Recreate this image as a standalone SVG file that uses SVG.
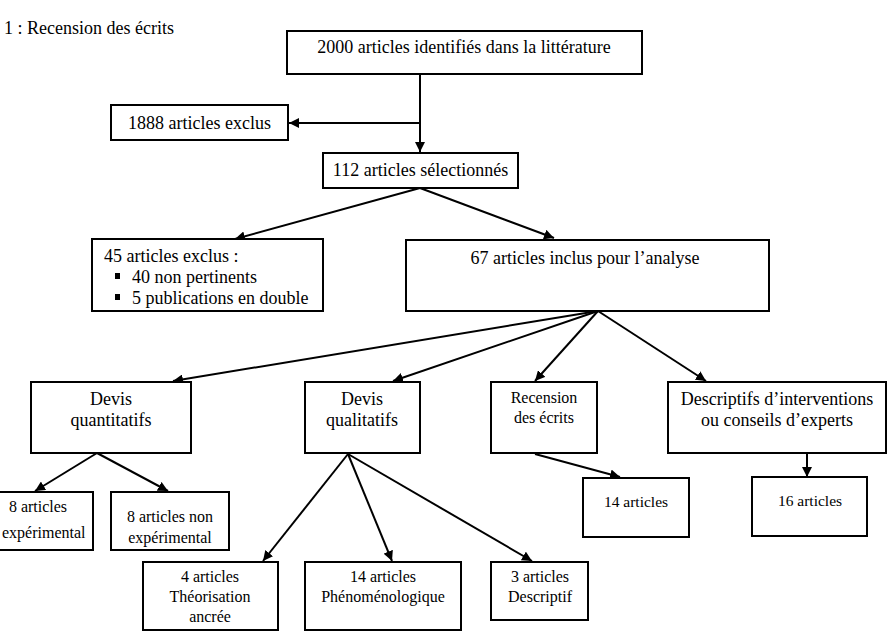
<svg xmlns="http://www.w3.org/2000/svg" width="887" height="634" viewBox="0 0 887 634">
<defs>
<marker id="ah" markerUnits="userSpaceOnUse" markerWidth="12" markerHeight="10" refX="10" refY="5" orient="auto">
<path d="M0,0 L10,5 L0,10 Z" fill="#000"/>
</marker>
<style>
.b{fill:#fff;stroke:#000;stroke-width:2}
.t{font-family:"Liberation Serif","Times New Roman",serif;font-size:18px;fill:#000}
.s{font-size:16px}
.m{text-anchor:middle}
.c{fill:none;stroke:#000;stroke-width:2;marker-end:url(#ah)}
</style>
</defs>
<rect width="887" height="634" fill="#fff"/>
<text class="t" x="4" y="34">1 : Recension des écrits</text>

<g id="connectors">
<line class="c" x1="420" y1="74" x2="420" y2="152"/>
<line class="c" x1="420" y1="123" x2="289" y2="123"/>
<line class="c" x1="420" y1="188" x2="235" y2="239"/>
<line class="c" x1="420" y1="188" x2="554" y2="238"/>
<line class="c" x1="598" y1="311" x2="173" y2="381"/>
<line class="c" x1="598" y1="311" x2="393" y2="381"/>
<line class="c" x1="598" y1="311" x2="535" y2="381"/>
<line class="c" x1="598" y1="311" x2="706" y2="381"/>
<line class="c" x1="97" y1="453" x2="35" y2="491"/>
<line class="c" x1="97" y1="453" x2="168" y2="491"/>
<line class="c" x1="348" y1="454" x2="263" y2="561"/>
<line class="c" x1="348" y1="454" x2="392" y2="561"/>
<line class="c" x1="348" y1="454" x2="532" y2="561"/>
<line class="c" x1="535" y1="454" x2="620" y2="477"/>
<line class="c" x1="807" y1="453" x2="807" y2="477"/>
</g>

<g id="n2000">
<rect class="b" x="287" y="31" width="355" height="43"/>
<text class="t m" x="464" y="53">2000 articles identifiés dans la littérature</text>
</g>
<g id="n1888">
<rect class="b" x="111" y="105" width="177" height="35"/>
<text class="t m" x="199.5" y="129">1888 articles exclus</text>
</g>
<g id="n112">
<rect class="b" x="323" y="153" width="195" height="35"/>
<text class="t m" x="420.5" y="176">112 articles sélectionnés</text>
</g>
<g id="n45">
<rect class="b" x="92" y="239" width="231" height="72"/>
<text class="t" x="104" y="262">45 articles exclus :</text>
<rect x="115" y="273" width="5" height="6" fill="#000"/>
<text class="t" x="132" y="283">40 non pertinents</text>
<rect x="115" y="294" width="5" height="6" fill="#000"/>
<text class="t" x="132" y="304">5 publications en double</text>
</g>
<g id="n67">
<rect class="b" x="406" y="240" width="363" height="71"/>
<text class="t m" x="585" y="264">67 articles inclus pour l’analyse</text>
</g>
<g id="nquant">
<rect class="b" x="31" y="382" width="160" height="71"/>
<text class="t m" x="111" y="405">Devis</text>
<text class="t m" x="111" y="426">quantitatifs</text>
</g>
<g id="nqual">
<rect class="b" x="305" y="382" width="115" height="71"/>
<text class="t m" x="362" y="405">Devis</text>
<text class="t m" x="362" y="426">qualitatifs</text>
</g>
<g id="nrec">
<rect class="b" x="491" y="382" width="106" height="71"/>
<text class="t s m" x="544" y="403">Recension</text>
<text class="t s m" x="544" y="423">des écrits</text>
</g>
<g id="ndesc">
<rect class="b" x="668" y="382" width="218" height="71"/>
<text class="t m" x="777" y="405">Descriptifs d’interventions</text>
<text class="t m" x="777" y="426">ou conseils d’experts</text>
</g>
<g id="n8exp">
<rect class="b" x="-20" y="492" width="113" height="58"/>
<text class="t s m" x="38" y="512">8  articles</text>
<text class="t s" x="2" y="538">expérimental</text>
</g>
<g id="n8non">
<rect class="b" x="111" y="492" width="118" height="58"/>
<text class="t s m" x="170" y="522">8 articles non</text>
<text class="t s m" x="170" y="543">expérimental</text>
</g>
<g id="n14rec">
<rect class="b" x="583" y="478" width="106" height="59"/>
<text class="t m" x="636" y="507" style="font-size:15.5px">14 articles</text>
</g>
<g id="n16">
<rect class="b" x="752" y="477" width="115" height="59"/>
<text class="t m" x="810" y="506" style="font-size:15.5px">16 articles</text>
</g>
<g id="n4">
<rect class="b" x="143" y="562" width="135" height="68"/>
<text class="t s m" x="210" y="582">4 articles</text>
<text class="t s m" x="210" y="602">Théorisation</text>
<text class="t s m" x="210" y="622">ancrée</text>
</g>
<g id="n14ph">
<rect class="b" x="305" y="562" width="156" height="68"/>
<text class="t s m" x="383" y="582">14 articles</text>
<text class="t s m" x="383" y="602">Phénoménologique</text>
</g>
<g id="n3">
<rect class="b" x="491" y="562" width="97" height="58"/>
<text class="t s m" x="540" y="582">3 articles</text>
<text class="t s m" x="540" y="602">Descriptif</text>
</g>
</svg>
